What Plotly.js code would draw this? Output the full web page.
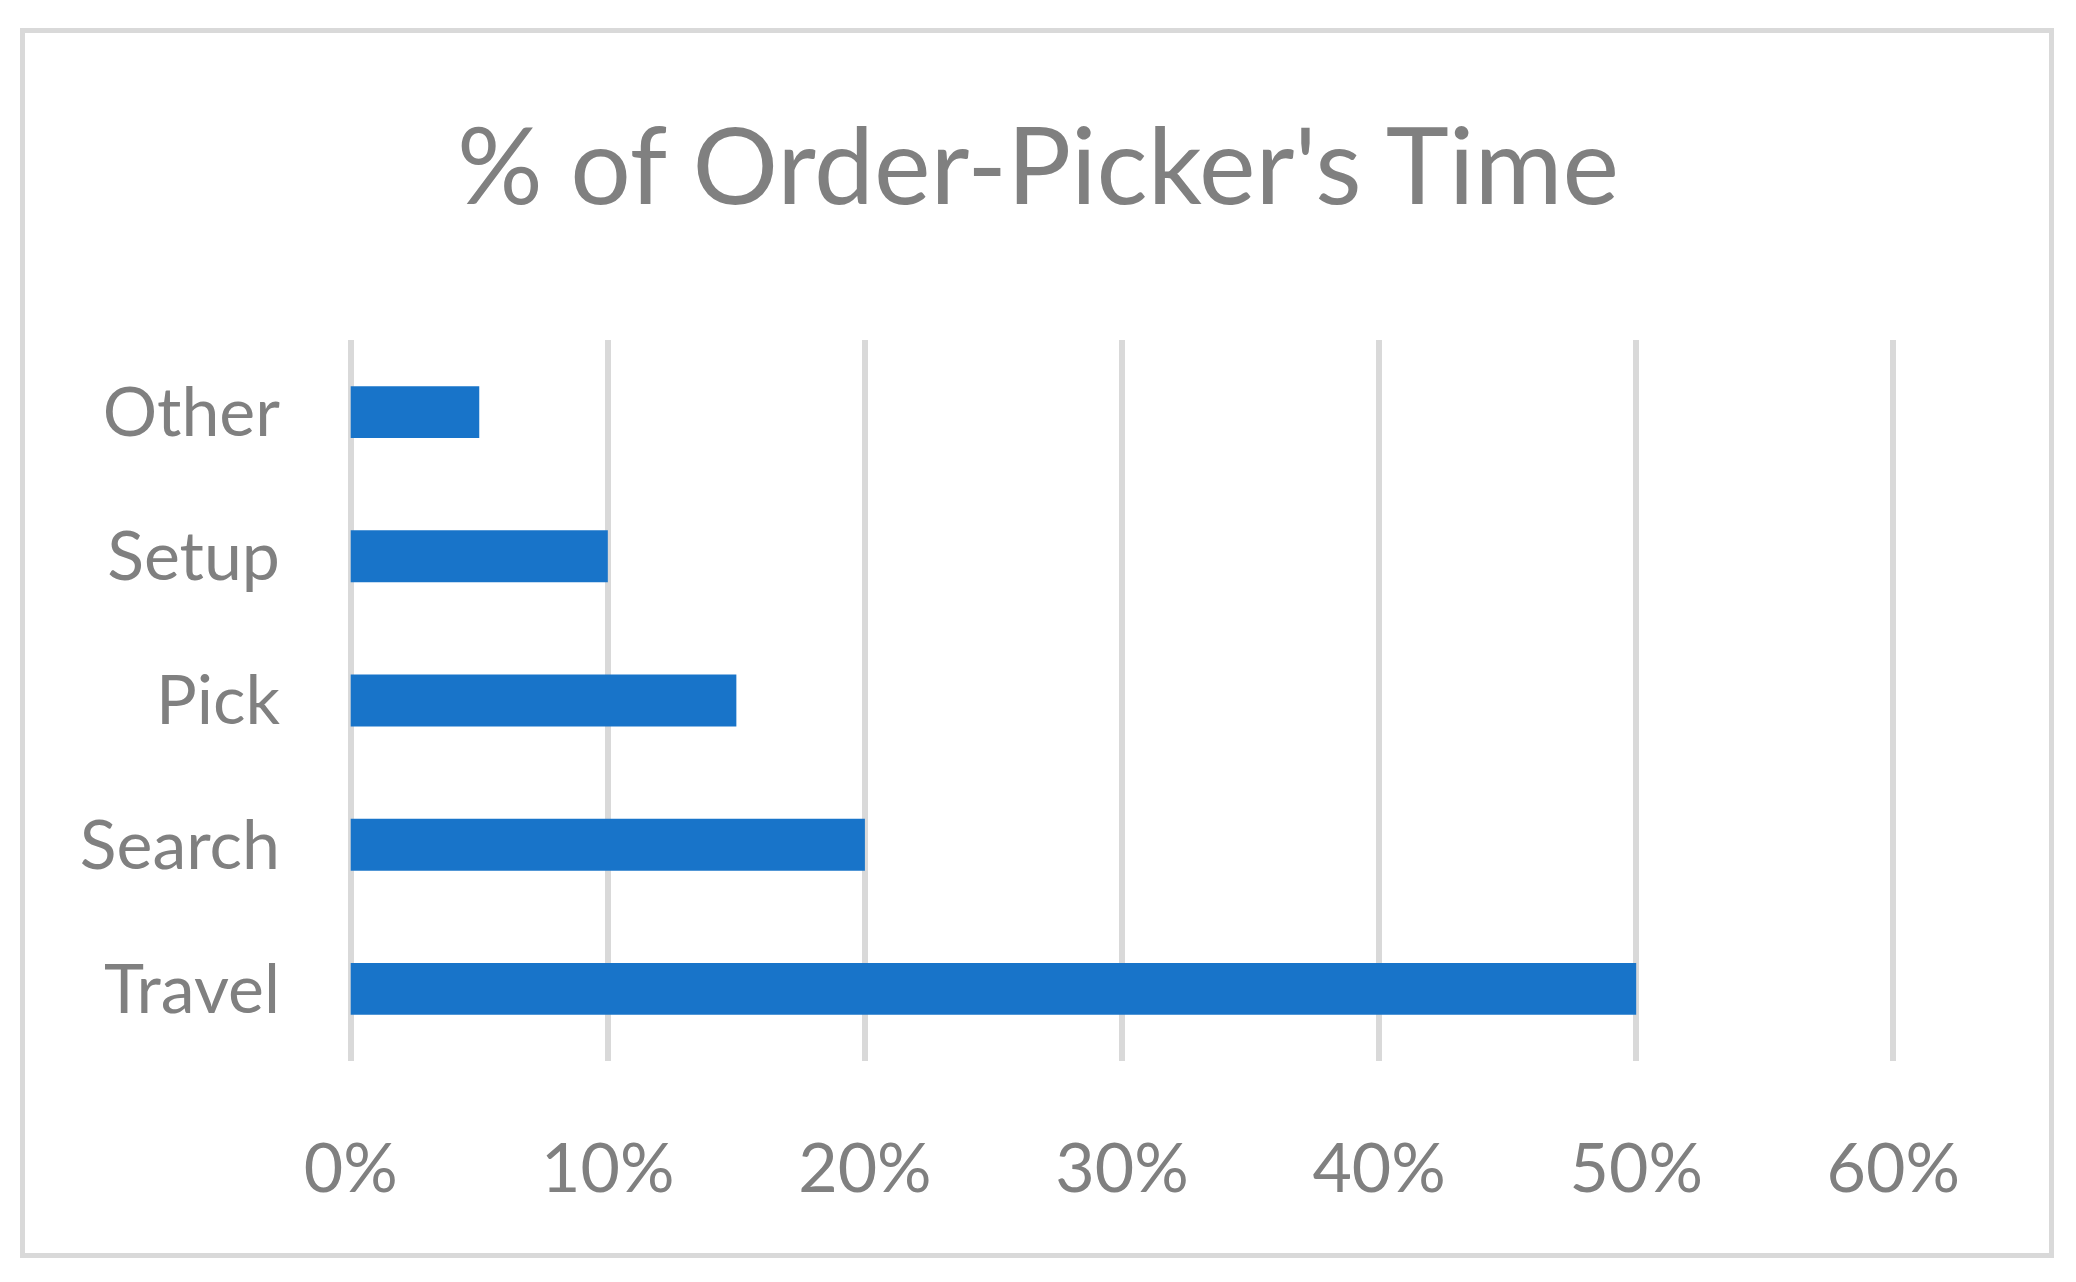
<!DOCTYPE html>
<html>
<head>
<meta charset="utf-8">
<script src="https://cdn.plot.ly/plotly-3.0.1.min.js"></script>
<style>
  body { margin: 0; background: #fff; }
  #wrap { position: relative; width: 2076px; height: 1282px; }
  #chart { width: 2076px; height: 1282px; }
  #frame {
    position: absolute; left: 20px; top: 28px; width: 2024px; height: 1220px;
    border: 5px solid #d9d9d9; pointer-events: none;
  }
</style>
</head>
<body>
<div id="wrap">
  <div id="chart"></div>
  <div id="frame"></div>
</div>
<script>
// categories bottom to top, as in the chart
const categories = ['Travel', 'Search', 'Pick', 'Setup', 'Other'];
const shares = [0.50, 0.20, 0.15, 0.10, 0.05];
const xTicks = [0, 0.1, 0.2, 0.3, 0.4, 0.5, 0.6];
const xTickText = ['0%', '10%', '20%', '30%', '40%', '50%', '60%'];

const grey = '#808080';
const font = 'Lato, "Open Sans", sans-serif';

const trace = {
  type: 'bar',
  orientation: 'h',
  x: shares,
  y: categories,
  marker: { color: '#1874c9' },
  hoverinfo: 'x+y'
};

// a hair of padding so the 0% and 60% gridlines are kept
const layout = {
  width: 2076,
  height: 1282,
  margin: { l: 343, r: 175, t: 340, b: 221 },
  paper_bgcolor: '#fff',
  plot_bgcolor: '#fff',
  showlegend: false,
  bargap: 0.64,
  title: {
    text: "% of Order-Picker's Time",
    font: { family: font, size: 107, color: grey },
    x: 0.5, xanchor: 'center',
    y: 1 - 167 / 1282, yanchor: 'middle'
  },
  xaxis: {
    range: [-0.003, 0.603],
    tickvals: xTicks,
    ticktext: xTickText,
    showgrid: true,
    gridcolor: '#d9d9d9',
    gridwidth: 6,
    zeroline: false,
    showline: false,
    ticks: '',
    ticklabelstandoff: 62,
    tickfont: { family: font, size: 68, color: grey }
  },
  yaxis: {
    type: 'category',
    categoryorder: 'array',
    categoryarray: categories,
    range: [-0.5, 4.5],
    showgrid: false,
    zeroline: false,
    showline: false,
    ticks: '',
    ticklabelstandoff: 62,
    tickfont: { family: font, size: 68, color: grey }
  }
};

Plotly.newPlot('chart', [trace], layout, { displayModeBar: false, staticPlot: true });
</script>
</body>
</html>
